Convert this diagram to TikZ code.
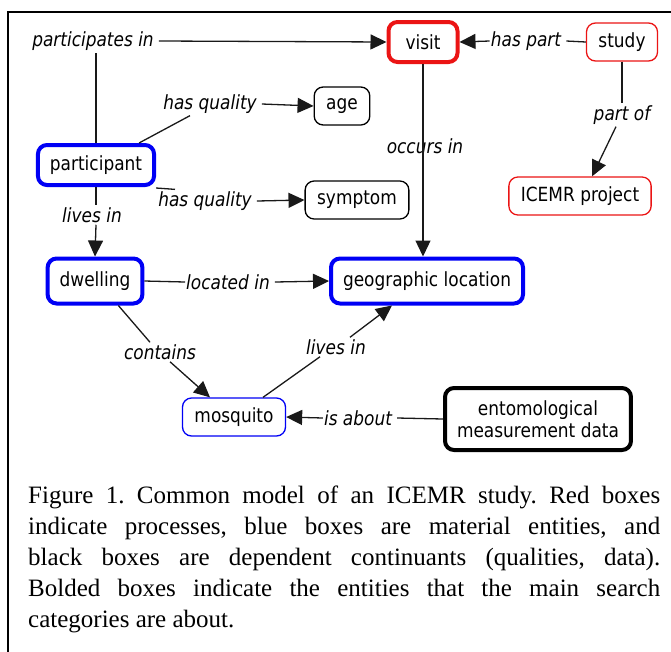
\documentclass[tikz,border=0pt]{standalone}
\usepackage{fontspec}
\setmainfont{Liberation Serif}
\newfontfamily\diagfont[FakeStretch=0.87]{DejaVu Sans}
\usetikzlibrary{arrows.meta}

\definecolor{procred}{RGB}{235,20,20}
\definecolor{matblue}{RGB}{0,0,245}

\begin{document}
\begin{tikzpicture}[x=1pt,y=-1pt,
    box/.style={draw,rounded corners=9pt,fill=white,inner xsep=12pt,minimum height=38pt,
        font=\diagfont\fontsize{19.5}{22}\selectfont,align=center},
    heavy/.style={line width=4pt,minimum height=40pt},
    lite/.style={line width=1.3pt},
    rel/.style={font=\diagfont\itshape\fontsize{19.5}{22}\selectfont,inner xsep=5pt,inner ysep=2pt},
    link/.style={draw=black!90,line width=1.3pt},
    tip/.style={link,-{Triangle[length=16pt,width=15pt]}}]
\useasboundingbox (0,0) rectangle (671,651);
\clip (0,0) rectangle (671,651);
% page frame, cut off at right and bottom
\draw[line width=2pt] (8,700) -- (8,12) -- (700,12);

% processes (red)
\node[box,heavy,draw=procred,minimum width=69pt] (visit) at (423,42) {visit};
\node[box,lite,draw=procred] (study) at (622,42) {study};
\node[box,lite,draw=procred] (icemr) at (580,196) {ICEMR project};
% material entities (blue)
\node[box,heavy,draw=matblue] (participant) at (96,165) {participant};
\node[box,heavy,draw=matblue,minimum height=45pt] (dwelling) at (95,281) {dwelling};
\node[box,heavy,draw=matblue,minimum height=45pt] (geo) at (427,281) {geographic location};
\node[box,lite,draw=matblue] (mosquito) at (234,417) {mosquito};
% dependent continuants (black)
\node[box,lite] (age) at (342,106) {age};
\node[box,lite] (symptom) at (357,200) {symptom};
\node[box,heavy,minimum height=62pt] (ento) at (538,419) {entomological\\measurement data};

% relation labels
\node[rel] (lPart) at (93,41) {participates in};
\node[rel] (lQualA) at (210,104) {has quality};
\node[rel] (lQualS) at (205,201) {has quality};
\node[rel] (lLives) at (92,215) {lives in};
\node[rel] (lOccurs) at (425,146) {occurs in};
\node[rel] (lHasPart) at (526,41) {has part};
\node[rel] (lPartOf) at (622,115) {part of};
\node[rel,inner xsep=1pt] (lLocated) at (228,282) {located in};
\node[rel] (lContains) at (160,352) {contains};
\node[rel] (lLivesM) at (336,347) {lives in};
\node[rel] (lAbout) at (358,418) {is about};

% connectors
\draw[link] (participant.north) -- (participant.north |- lPart.south);
\draw[tip] (lPart.east) -- (visit.west);
\draw[link] ([xshift=-17pt]participant.north east) -- ([xshift=-20pt]lQualA.south);
\draw[tip] (lQualA.east) -- (age.west);
\draw[link] ([yshift=-1pt]participant.south east) -- ([xshift=-30pt]lQualS.north);
\draw[tip] (lQualS.east) -- (symptom.west);
\draw[link] (participant.south) -- (participant.south |- lLives.north);
\draw[tip] (participant.south |- lLives.south) -- (dwelling.north);
\draw[tip] (visit.south) -- (visit.south |- geo.north);
\draw[link] (study.west) -- (lHasPart.east);
\draw[tip] ([xshift=4pt]lHasPart.west) -- (visit.east);
\draw[link] (study.south) -- (lPartOf.north);
\draw[tip] ([xshift=-6pt]lPartOf.south) -- ([xshift=12pt]icemr.north);
\draw[link] (dwelling.east) -- (lLocated.west);
\draw[tip] ([xshift=4pt]lLocated.east) -- (geo.west);
\draw[link] ([xshift=-26pt]dwelling.south east) -- ([xshift=-10pt]lContains.north);
\draw[tip] ([xshift=10pt]lContains.south) -- ([xshift=-24pt]mosquito.north);
\draw[link] ([xshift=29pt]mosquito.north) -- ([xshift=-16pt]lLivesM.south);
\draw[tip] ([xshift=14pt]lLivesM.north) -- ([xshift=-35pt]geo.south);
\draw[link] (ento.west) -- (lAbout.east);
\draw[tip] ([xshift=4pt]lAbout.west) -- (mosquito.east);

% caption
\node[anchor=north west,inner sep=0pt,text width=632pt,align=justify,
    font=\frenchspacing\fontsize{25}{31}\selectfont] (caption) at (28,486)
    {Figure 1. Common model of an ICEMR study. Red boxes\linebreak
     indicate processes, blue boxes are material entities, and\linebreak
     black boxes are dependent continuants (qualities, data).\linebreak
     Bolded boxes indicate the entities that the main search\linebreak
     categories are about.};
\end{tikzpicture}
\end{document}
